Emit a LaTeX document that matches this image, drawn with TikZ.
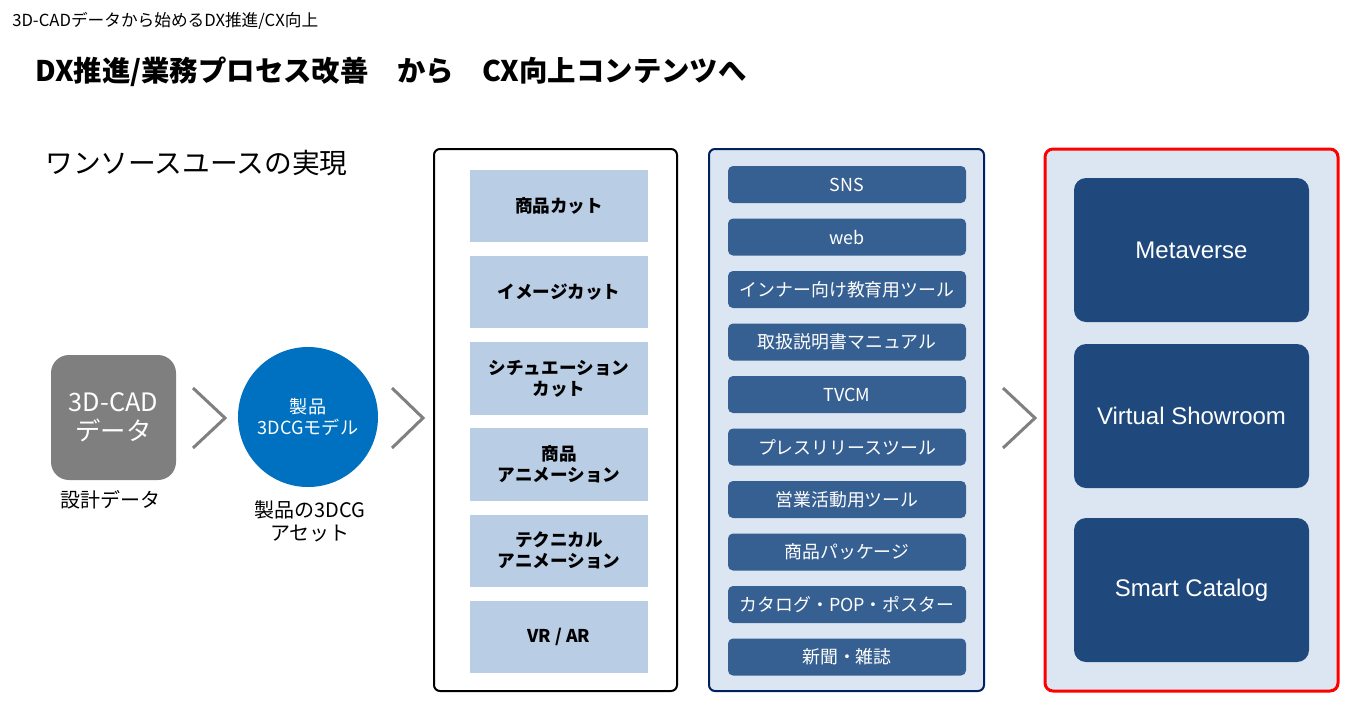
\documentclass[tikz,border=0pt]{standalone}
\usepackage{fontspec}
\setmainfont{Noto Sans CJK JP}
\newfontfamily\arialf{Liberation Sans}
\definecolor{chevgray}{HTML}{808080}
\definecolor{cadgray}{HTML}{7F7F7F}
\definecolor{circblue}{HTML}{0070C0}
\definecolor{lightblue}{HTML}{B9CDE5}
\definecolor{panelfill}{HTML}{DCE6F2}
\definecolor{navy}{HTML}{002060}
\definecolor{midblue}{HTML}{376092}
\definecolor{darkblue}{HTML}{1F497D}
\begin{document}
\begin{tikzpicture}[x=0.75pt,y=-0.75pt,
  chev/.style={draw=chevgray, line width=2.25pt},
  lightbox/.style={fill=lightblue, minimum width=133.5pt, minimum height=54.4pt, inner sep=0pt, align=center, font=\bfseries\fontsize{13.2}{15.75}\selectfont},
  darkbox/.style={fill=midblue, rounded corners=3.75pt, minimum width=178.5pt, minimum height=27.75pt, inner sep=0pt, text=white, font=\fontsize{13.4}{15}\selectfont},
  bigbox/.style={fill=darkblue, rounded corners=9pt, minimum width=176.25pt, minimum height=108pt, inner sep=0pt, text=white, font=\arialf\fontsize{18}{20}\selectfont},
  panel/.style={minimum width=#1, minimum height=406.5pt, inner sep=0pt},
  caption/.style={align=center, inner sep=0pt, font=\fontsize{15}{17.25}\selectfont}
]
\fill[white] (0,0) rectangle (1360,715);
\useasboundingbox (0,0) rectangle (1360,715);

% headings
\node[anchor=west, inner sep=0pt, font=\fontsize{12.5}{14}\selectfont] (sub) at (12,21) {3D-CADデータから始めるDX推進/CX向上};
\node[anchor=west, inner sep=0pt, font=\bfseries\fontsize{21.3}{25}\selectfont] (title) at (35,72) {DX推進/業務プロセス改善　から　CX向上コンテンツへ};
\node[anchor=west, inner sep=0pt, font=\fontsize{20.8}{24}\selectfont] (onesrc) at (45,163) {ワンソースユースの実現};

% CAD box
\node[fill=cadgray, rounded corners=13.5pt, minimum width=93.75pt, minimum height=93.75pt, inner sep=0pt, text=white, align=center, font=\fontsize{19}{22}\selectfont] (cad) at (113.5,417.5) {3D-CAD\\データ};
\node[caption] (cadlbl) at (110,500) {設計データ};

% chevron 1
\draw[chev] (193,388) -- (225,418) -- (193,448);

% circle
\node[circle, fill=circblue, minimum size=105pt, inner sep=0pt, text=white, align=center, font=\fontsize{13.6}{16}\selectfont] (model) at (308,417) {製品\\3DCGモデル};
\node[caption] (modellbl) at (310,521.5) {製品の3DCG\\アセット};

% chevron 2
\draw[chev] (392,388) -- (423,418) -- (392,448);

% panel 1
\node[panel=182.25pt, draw=black, line width=1.5pt, rounded corners=4.5pt] (p1) at (555.5,420) {};
\node[lightbox] (c1) at (559,206) {商品カット};
\node[lightbox] (c2) at (559,292.2) {イメージカット};
\node[lightbox] (c3) at (559,378.4) {シチュエーション\\カット};
\node[lightbox] (c4) at (559,464.6) {商品\\アニメーション};
\node[lightbox] (c5) at (559,550.8) {テクニカル\\アニメーション};
\node[lightbox] (c6) at (559,637) {VR / AR};

% panel 2
\node[panel=206.25pt, fill=panelfill, draw=navy, line width=1.5pt, rounded corners=4.5pt] (p2) at (846.5,420) {};
\foreach \t [count=\i from 0] in {SNS, web, インナー向け教育用ツール, 取扱説明書マニュアル, TVCM, プレスリリースツール, 営業活動用ツール, 商品パッケージ, カタログ・POP・ポスター, 新聞・雑誌}
  \node[darkbox] (m\i) at (847,184.5+52.5*\i) {\t};

% chevron 3
\draw[chev] (1003,388) -- (1035,418) -- (1003,448);

% panel 3
\node[panel=219.75pt, fill=panelfill, draw=red, line width=2.25pt, rounded corners=6pt] (p3) at (1191.5,420) {};
\node[bigbox] (meta) at (1191.5,250) {Metaverse};
\node[bigbox] (vs) at (1191.5,416) {Virtual Showroom};
\node[bigbox] (sc) at (1191.5,590) {Smart Catalog};
\end{tikzpicture}
\end{document}
